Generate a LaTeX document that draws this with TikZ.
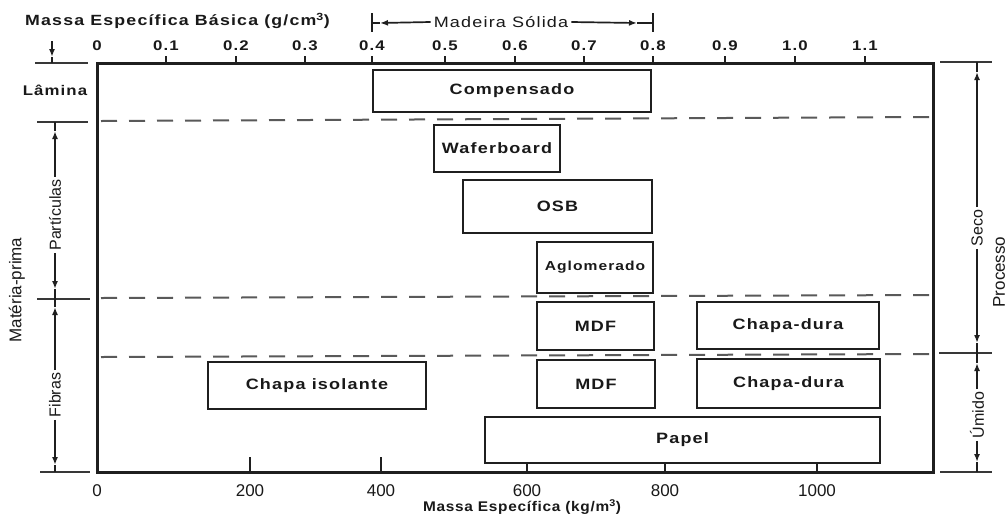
\documentclass[tikz,border=0pt]{standalone}
\usepackage{fontspec}
\setmainfont{Liberation Sans}
\newfontfamily\widefont[FakeStretch=1.2,LetterSpace=8]{Liberation Sans}
\newfontfamily\midfont[FakeStretch=1.1,LetterSpace=5]{Liberation Sans}
\usetikzlibrary{arrows.meta}
\begin{document}
\begin{tikzpicture}[x=1pt,y=-1pt,
  boxn/.style={draw=black!88, line width=2.2pt, fill=white, inner sep=0pt,
    font=\widefont\bfseries\fontsize{15}{15}\selectfont, text=black!90},
  wlab/.style={font=\widefont\bfseries\fontsize{14}{14}\selectfont, text=black!90, inner sep=1pt},
  slab/.style={font=\fontsize{16}{16}\selectfont, text=black!90, inner sep=2.5pt, rotate=90},
  brk/.style={draw=black!78, line width=2pt},
  dimln/.style={draw=black!88, line width=1.7pt},
  tipd/.style={-{Latex[length=8pt,width=6pt]}},
  dashln/.style={draw=black!65, line width=2pt, dash pattern=on 16pt off 12pt},
]
\useasboundingbox (0,0) rectangle (1008,515);
\fill[white] (0,0) rectangle (1008,515);

% frame
\coordinate (fNW) at (97,63);
\coordinate (fSE) at (933,472);
\draw[line width=3pt, black!88] (fNW) rectangle (fSE);

% top scale
\foreach \x in {166,236,305,372,445,515,584,653,725,795,865}
  \draw[line width=1.7pt, black!88] (\x,63) -- (\x,56);
\foreach \x/\v [count=\i] in {97/0,166/0.1,236/0.2,305/0.3,372/0.4,445/0.5,515/0.6,584/0.7,653/0.8,725/0.9,795/1.0,865/1.1}
  \node[wlab] (t\i) at (\x,46) {\v};
\node[wlab, anchor=west, font=\widefont\bfseries\fontsize{14.8}{15}\selectfont] (ttl) at (24,21) {Massa Específica Básica (g/cm\textsuperscript{3})};

% Madeira Solida bracket
\node[font=\widefont\fontsize{15}{15}\selectfont, text=black!90, inner sep=3pt] (mad) at (501,22) {Madeira Sólida};
\draw[dimln] (372,13) -- (372,32);
\draw[dimln] (653,13) -- (653,32);
\coordinate (ml1) at (380,23); \coordinate (ml0) at (372,23);
\coordinate (mr1) at (637,23); \coordinate (mr0) at (653,23);
\draw[dimln,tipd] (mad.west) -- (ml1); \draw[dimln] (ml1) -- (ml0);
\draw[dimln,tipd] (mad.east) -- (mr1); \draw[dimln] (mr1) -- (mr0);

% bottom scale
\draw[line width=1.7pt, black!88] (250,472) -- (250,457);
\draw[line width=1.7pt, black!88] (381,472) -- (381,457);
\draw[line width=1.7pt, black!88] (527,472) -- (527,463);
\draw[line width=1.7pt, black!88] (665,472) -- (665,463);
\draw[line width=1.7pt, black!88] (817,472) -- (817,463);
\foreach \x/\v [count=\i] in {97/0,250/200,381/400,527/600,665/800,817/1000}
  \node[font=\fontsize{17}{17}\selectfont, text=black!90, inner sep=1pt] (b\i) at (\x,491) {\v};
\node[font=\midfont\bfseries\fontsize{14}{14}\selectfont, text=black!90, inner sep=1pt] (btl) at (522,507) {Massa Específica (kg/m\textsuperscript{3})};

% dashed separators
\draw[dashln] (101,121) -- (933,117);
\draw[dashln] (101,298) -- (933,295);
\draw[dashln] (101,357) -- (933,354);

% boxes
\node[boxn, minimum width=278pt, minimum height=42pt] (comp) at (512,91) {Compensado};
\node[boxn, minimum width=126pt, minimum height=47pt] (wafer) at (497,148.5) {Waferboard};
\node[boxn, minimum width=189pt, minimum height=53pt] (osb) at (557.5,206.5) {OSB};
\node[boxn, minimum width=116pt, minimum height=51pt, font=\widefont\bfseries\fontsize{13}{13}\selectfont] (aglo) at (595,267.5) {Aglomerado};
\node[boxn, minimum width=117pt, minimum height=48pt] (mdfa) at (595.5,326) {MDF};
\node[boxn, minimum width=182pt, minimum height=47pt] (cda) at (788,325.5) {Chapa-dura};
\node[boxn, minimum width=218pt, minimum height=47pt] (chiso) at (317,385.5) {Chapa isolante};
\node[boxn, minimum width=118pt, minimum height=48pt] (mdfb) at (596,384) {MDF};
\node[boxn, minimum width=183pt, minimum height=49pt] (cdb) at (788.5,383.5) {Chapa-dura};
\node[boxn, minimum width=395pt, minimum height=46pt] (papel) at (682.5,440) {Papel};

% left brackets
\draw[brk] (35,63) -- (88,63);
\draw[brk] (37,122) -- (88,122);
\draw[brk] (37,299) -- (90,299);
\draw[brk] (40,472) -- (90,472);
\node[wlab, font=\widefont\bfseries\fontsize{14}{14}\selectfont] (lam) at (55,90) {Lâmina};
\coordinate (la0) at (52,41); \coordinate (la1) at (52,57); \coordinate (la2) at (52,63);
\draw[dimln,tipd] (la0) -- (la1); \draw[dimln] (la1) -- (la2);

\node[slab] (part) at (55,215) {Partículas};
\coordinate (pt1) at (55,131); \coordinate (pt0) at (55,122);
\coordinate (pb1) at (55,289); \coordinate (pb0) at (55,299);
\draw[dimln,tipd] (part.east) -- (pt1); \draw[dimln] (pt1) -- (pt0);
\draw[dimln,tipd] (part.west) -- (pb1); \draw[dimln] (pb1) -- (pb0);

\node[slab] (fib) at (55,395) {Fibras};
\coordinate (ft1) at (55,307); \coordinate (ft0) at (55,299);
\coordinate (fb1) at (55,465); \coordinate (fb0) at (55,472);
\draw[dimln,tipd] (fib.east) -- (ft1); \draw[dimln] (ft1) -- (ft0);
\draw[dimln,tipd] (fib.west) -- (fb1); \draw[dimln] (fb1) -- (fb0);

\node[slab, font=\fontsize{17}{17}\selectfont] (mat) at (17,290) {Matéria-prima};

% right brackets
\draw[brk] (940,62) -- (992,62);
\draw[brk] (939,353) -- (992,353);
\draw[brk] (940,472) -- (992,472);

\node[slab] (seco) at (977,228) {Seco};
\coordinate (st1) at (977,72); \coordinate (st0) at (977,62);
\coordinate (sb1) at (977,343); \coordinate (sb0) at (977,353);
\draw[dimln,tipd] (seco.east) -- (st1); \draw[dimln] (st1) -- (st0);
\draw[dimln,tipd] (seco.west) -- (sb1); \draw[dimln] (sb1) -- (sb0);

\node[slab] (umi) at (977,415) {Úmido};
\coordinate (ut1) at (977,363); \coordinate (ut0) at (977,353);
\coordinate (ub1) at (977,462); \coordinate (ub0) at (977,472);
\draw[dimln,tipd] (umi.east) -- (ut1); \draw[dimln] (ut1) -- (ut0);
\draw[dimln,tipd] (umi.west) -- (ub1); \draw[dimln] (ub1) -- (ub0);

\node[slab, font=\fontsize{17}{17}\selectfont] (proc) at (999,272) {Processo};
\end{tikzpicture}
\end{document}
